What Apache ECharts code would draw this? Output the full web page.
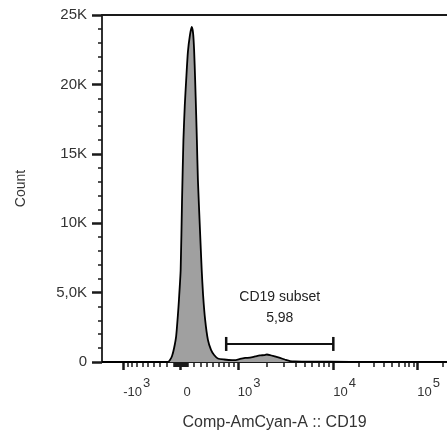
<!DOCTYPE html>
<html><head><meta charset="utf-8">
<script src="https://cdn.jsdelivr.net/npm/echarts@6/dist/echarts.min.js"></script>
<style>html,body{margin:0;padding:0;background:#fff}#c{width:447px;height:434px}</style>
</head><body><div id="c"></div>
<script>
// ---- data ----
// histogram bins on the biexponential display scale (channels 0..1000)
const histChannels = [0,185,191,197,203,209,215,220,223,228,232,236,240,244,249,255,260,264,267,270,273,275,278,284,289,293,299,307,316,325,336,354,377,388,400,415,429,444,458,470,478,487,501,516,530,545,559,603,719,864,1000];
const histCounts   = [0,0,0,140,430,1010,1870,3390,4470,6630,11670,16000,18520,20320,22340,23560,24140,23700,22480,20320,17800,16000,13110,9510,6630,4830,3030,1590,870,500,250,180,140,140,220,290,320,400,470,500,540,500,400,290,180,70,40,20,15,10,8];
// axis ticks
const yTickValues = [0,5000,10000,15000,20000,25000];
const yTickLabels = ['0','5,0K','10K','15K','20K','25K'];
const xMajorValues = [-1000,0,1000,10000,100000];
const xMajorBase   = ['-10','0','10','10','10'];
const xMajorExp    = ['3','','3','4','5'];
// gate
const gateName = 'CD19 subset';
const gatePercent = '5,98';
const gateRange = [745,10000];
const gateLevel = 1300;

// ---- biexponential display transform (data value -> channel) ----
const ZERO_CH = 227.5, LIN_HALF = 166, LIN_C = 750, DEC3 = 166, DEC4 = 443, DEC5 = 686.5;
function toChannel(v){
  const s = Math.sign(v), u = Math.abs(v);
  let r;
  if (u <= 1000) r = LIN_HALF*Math.asinh(u/LIN_C)/Math.asinh(1000/LIN_C);
  else {
    const l = Math.log10(u);
    if (l <= 4) r = DEC3 + (l-3)*(DEC4-DEC3);
    else r = DEC4 + (l-4)*(DEC5-DEC4);
  }
  return ZERO_CH + s*r;
}
const majorCh = xMajorValues.map(toChannel);
const minorVals = [];
[10,100,1000,10000,100000].forEach(d=>{for(let k=1;k<=9;k++){const v=k*d; if(!xMajorValues.includes(v)) minorVals.push(v); if(!xMajorValues.includes(-v)) minorVals.push(-v);}});
const minorCh = minorVals.map(toChannel).filter(c=>c>=0&&c<=1000);

const FONT = 'Liberation Sans, Arial, sans-serif';
const AX = '#1a1a1a', TXT = '#333';
const chart = echarts.init(document.getElementById('c'));
chart.setOption({
  animation:false,
  grid:{left:102, top:15, right:0, bottom:72, outerBoundsMode:'none', containLabel:false},
  xAxis:[
    {type:'value', min:0, max:1000, position:'bottom',
     axisLine:{show:true, lineStyle:{color:AX, width:1.8}},
     splitLine:{show:false},
     axisTick:{show:true, customValues:majorCh, length:8, lineStyle:{color:AX, width:2.5}},
     axisLabel:{show:true, customValues:majorCh, margin:23, align:'left', fontFamily:FONT,
       formatter:function(val){
         let bi=0; majorCh.forEach((c,i)=>{if(Math.abs(c-val)<Math.abs(majorCh[bi]-val)) bi=i;});
         return xMajorExp[bi] ? '{b|'+xMajorBase[bi]+'}{s|'+xMajorExp[bi]+'}' : '{z|'+xMajorBase[bi]+'}';
       },
       rich:{
         b:{fontSize:13, color:TXT, fontFamily:FONT, verticalAlign:'bottom', lineHeight:14},
         z:{fontSize:13, color:TXT, fontFamily:FONT, verticalAlign:'bottom', lineHeight:14, padding:[0,0,0,3]},
         s:{fontSize:13, color:TXT, fontFamily:FONT, verticalAlign:'bottom', lineHeight:14, padding:[0,0,9,1]}
       }},
     name:'Comp-AmCyan-A :: CD19', nameLocation:'middle', nameGap:53,
     nameTextStyle:{fontSize:16, color:TXT, fontFamily:FONT}
    },
    {type:'value', min:0, max:1000, position:'bottom',
     axisLine:{show:false}, splitLine:{show:false}, axisLabel:{show:false},
     axisTick:{show:true, customValues:minorCh, length:5, lineStyle:{color:AX, width:1.5}}
    },
    {type:'value', min:0, max:1000, position:'top',
     axisLine:{show:true, lineStyle:{color:AX, width:1.8}}, axisTick:{show:false}, axisLabel:{show:false}, splitLine:{show:false}
    }
  ],
  yAxis:{type:'value', min:0, max:25000, interval:5000,
    axisLine:{show:true, lineStyle:{color:AX, width:1.8}},
    splitLine:{show:false},
    axisTick:{show:true, length:10, lineStyle:{color:AX, width:2.5}},
    minorTick:{show:true, splitNumber:5, length:4, lineStyle:{color:AX, width:1.5}},
    axisLabel:{margin:15, fontSize:15, color:TXT, fontFamily:FONT,
      formatter:v=>{const i=yTickValues.indexOf(v); return i>=0?yTickLabels[i]:'';}},
    name:'Count', nameLocation:'middle', nameGap:74,
    nameTextStyle:{fontSize:14, color:TXT, fontFamily:FONT}
  },
  series:[
    {type:'line', xAxisIndex:0, yAxisIndex:0, smooth:0.2, symbol:'none',
     data: histChannels.map((c,i)=>[c,histCounts[i]]),
     lineStyle:{color:'#000', width:1.8},
     areaStyle:{color:'#a0a0a0', opacity:1}, z:3},
    {type:'custom', xAxisIndex:0, yAxisIndex:0, z:5,
     data:[[toChannel(gateRange[0]), toChannel(gateRange[1]), gateLevel]],
     renderItem:function(params, api){
       const p1 = api.coord([api.value(0), api.value(2)]);
       const p2 = api.coord([api.value(1), api.value(2)]);
       const cx = (p1[0]+p2[0])/2;
       const st = {stroke:'#111', lineWidth:2};
       return {type:'group', children:[
         {type:'line', shape:{x1:p1[0],y1:p1[1],x2:p2[0],y2:p2[1]}, style:st},
         {type:'line', shape:{x1:p1[0],y1:p1[1]-7,x2:p1[0],y2:p1[1]+7}, style:{stroke:'#111', lineWidth:2.5}},
         {type:'line', shape:{x1:p2[0],y1:p2[1]-7,x2:p2[0],y2:p2[1]+7}, style:{stroke:'#111', lineWidth:2.5}},
         {type:'text', x:cx, y:p1[1]-47, style:{text:gateName, fontSize:14, fontFamily:FONT, fill:'#222', align:'center', verticalAlign:'middle'}},
         {type:'text', x:cx, y:p1[1]-26, style:{text:gatePercent, fontSize:14, fontFamily:FONT, fill:'#222', align:'center', verticalAlign:'middle'}}
       ]};
     }}
  ]
});
</script></body></html>
